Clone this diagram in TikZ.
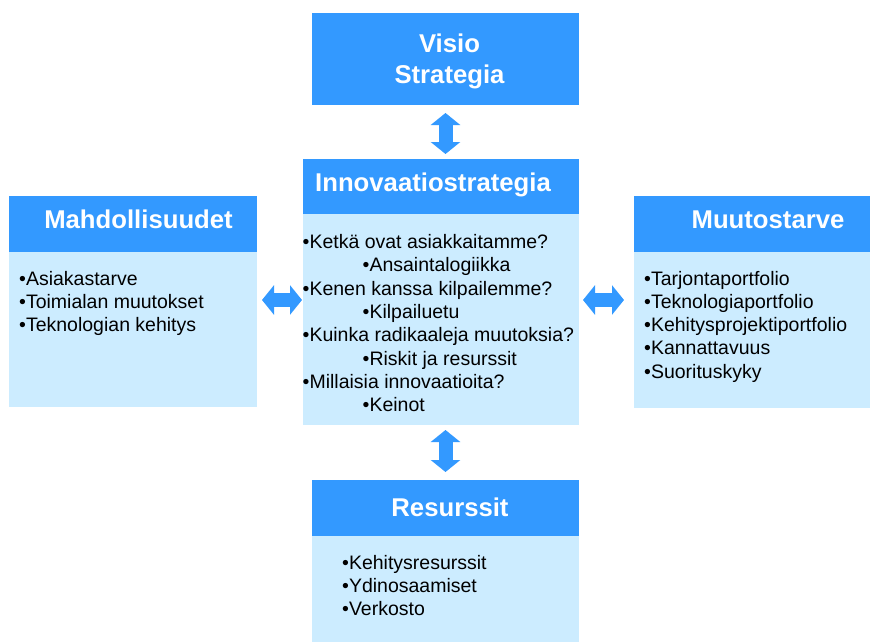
\documentclass[tikz,border=0pt]{standalone}
\usepackage{fontspec}
\setmainfont{Liberation Sans}
\usetikzlibrary{arrows.meta}

\definecolor{headblue}{HTML}{3399FF}
\definecolor{bodyblue}{HTML}{CCECFF}

\tikzset{
  boxbase/.style={draw=none,anchor=north west,inner sep=0pt,outer sep=0pt},
  headbox/.style={boxbase,fill=headblue},
  bodybox/.style={boxbase,fill=bodyblue},
  headtext/.style={text=white,font=\fontsize{25.7}{30}\selectfont\bfseries,anchor=base,inner sep=0pt},
  item/.style={text=black,font=\fontsize{19.5}{23.3}\selectfont,anchor=base west,inner sep=0pt},
  bigarrow/.style={headblue,line width=14pt,{Triangle[length=12pt,width=29pt]}-{Triangle[length=12pt,width=29pt]}}
}

\begin{document}
\begin{tikzpicture}[x=1pt,y=-1pt]
\useasboundingbox (0,0) rectangle (870,642);

% boxes
\node[headbox,minimum width=267pt,minimum height=92pt] (visio) at (312,13) {};
\node[headbox,minimum width=276pt,minimum height=55pt] (ihead) at (303,159) {};
\node[bodybox,minimum width=276pt,minimum height=211pt] (ibody) at (303,214) {};
\node[headbox,minimum width=248pt,minimum height=56pt] (mhead) at (9,196) {};
\node[bodybox,minimum width=248pt,minimum height=155pt] (mbody) at (9,252) {};
\node[headbox,minimum width=236pt,minimum height=56pt] (muhead) at (634,196) {};
\node[bodybox,minimum width=236pt,minimum height=156pt] (mubody) at (634,252) {};
\node[headbox,minimum width=267pt,minimum height=56pt] (rhead) at (312,480) {};
\node[bodybox,minimum width=267pt,minimum height=106pt] (rbody) at (312,536) {};

% titles
\node[headtext] (visiotxt) at (449.5,53) {Visio};
\node[headtext] (strattxt) at (449.5,83) {Strategia};
\node[headtext] (iheadtxt) at (433,191) {Innovaatiostrategia};
\node[headtext] (mheadtxt) at (138.5,228) {Mahdollisuudet};
\node[headtext] (muheadtxt) at (768,228) {Muutostarve};
\node[headtext] (rheadtxt) at (450,516) {Resurssit};

% lists
\foreach \txt [count=\i from 0] in {•Ketkä ovat asiakkaitamme?,
    \hspace*{60pt}•Ansaintalogiikka,
    •Kenen kanssa kilpailemme?,
    \hspace*{60pt}•Kilpailuetu,
    •Kuinka radikaaleja muutoksia?,
    \hspace*{60pt}•Riskit ja resurssit,
    •Millaisia innovaatioita?,
    \hspace*{60pt}•Keinot}
  \node[item] (iitem\i) at (302.5,248.5+23.3*\i) {\txt};

\foreach \txt [count=\i from 0] in {•Asiakastarve,•Toimialan muutokset,•Teknologian kehitys}
  \node[item] (mitem\i) at (19,285+23.3*\i) {\txt};

\foreach \txt [count=\i from 0] in {•Tarjontaportfolio,•Teknologiaportfolio,
    •Kehitysprojektiportfolio,•Kannattavuus,•Suorituskyky}
  \node[item] (muitem\i) at (644,285+23.3*\i) {\txt};

\foreach \txt [count=\i from 0] in {•Kehitysresurssit,•Ydinosaamiset,•Verkosto}
  \node[item] (ritem\i) at (342,569+23.3*\i) {\txt};

% arrows
\coordinate (arow) at (0,300);
\draw[bigarrow,shorten <=8pt,shorten >=5pt] (visio.south) -- (visio.south |- ihead.north);
\draw[bigarrow,shorten <=5pt,shorten >=8pt] (ibody.south -| visio.south) -- (rhead.north -| visio.south);
\draw[bigarrow,shorten <=5pt,shorten >=1pt] (mbody.east |- arow) -- (ibody.west |- arow);
\draw[bigarrow,shorten <=4pt,shorten >=10pt] (ibody.east |- arow) -- (mubody.west |- arow);
\end{tikzpicture}
\end{document}
